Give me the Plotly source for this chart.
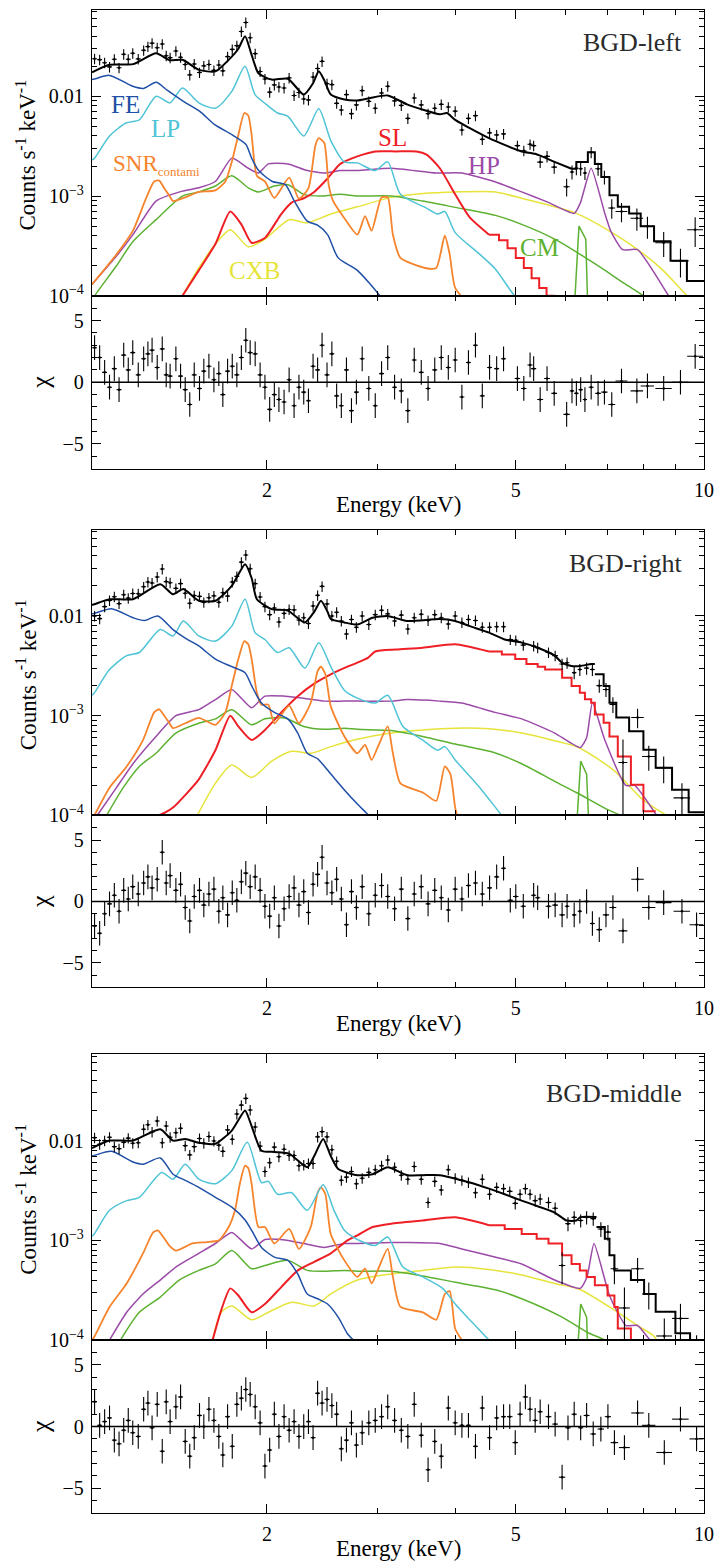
import math
import plotly.graph_objects as go

# ---------------- shared energy grid of the low/mid-energy data bins (keV)
E_GRID = [1.06,1.08,1.10,1.12,1.14,1.16,1.18,1.20,1.22,1.245,1.27,1.29,1.31,1.335,1.36,1.38,1.40,1.43,1.455,1.48,
          1.505,1.53,1.56,1.585,1.615,1.645,1.675,1.70,1.73,1.76,1.79,1.82,1.85,1.88,1.915,1.95,1.985,2.02,2.055,2.09,
          2.13,2.17,2.21,2.25,2.29,2.33,2.37,2.41,2.45,2.495,2.54,2.585,2.63,2.68,2.73,2.78,2.84,2.91,2.98,3.05,
          3.12,3.2,3.28,3.36,3.44,3.53,3.62,3.71,3.8,3.9,4.0,4.1,4.2,4.31,4.42,4.54,4.66,4.78]

# ================= BGD-left =================
P1_DATA = [0.0238,0.0233,0.0217,0.0197,0.0235,0.0193,0.0264,0.0235,0.0270,0.0237,
           0.0289,0.0315,0.0341,0.0307,0.0334,0.0255,0.0244,0.0284,0.0246,0.0208,
           0.0164,0.0211,0.0173,0.0202,0.0208,0.0182,0.0206,0.0180,0.0250,0.0295,
           0.0322,0.0446,0.0549,0.0386,0.0268,0.0177,0.0149,0.0110,0.0130,0.0124,
           0.0121,0.0153,0.0102,0.0109,0.0094,0.0092,0.0156,0.0190,0.0224,0.0134,
           0.0131,0.0085,0.0073,0.0104,0.0067,0.0082,0.0114,0.0089,0.0076,0.0108,
           0.0126,0.0090,0.0081,0.0060,0.0096,0.0082,0.0067,0.0076,0.0083,0.0078,
           0.0071,0.0046,0.0060,0.0064,0.0037,0.0043,0.0041,0.0042]
P1_RES = [2.8,2.0,0.8,-0.4,1.1,-0.6,2.2,1.0,2.4,0.6,
          1.9,2.3,2.6,1.2,2.7,0.6,0.5,1.9,0.5,-0.6,
          -1.8,0.6,-0.5,0.9,1.3,0.2,0.7,-1.0,0.9,1.3,
          0.6,2.0,3.4,2.4,2.3,0.6,-0.4,-2.2,-1.0,-1.4,
          -1.6,0.2,-1.9,-0.4,-0.8,-1.5,1.3,1.0,3.0,0.6,
          2.3,-1.1,-1.9,1.0,-2.3,-0.8,1.9,-0.5,-1.9,0.7,
          2.0,-0.4,-0.7,-2.3,1.8,0.8,-0.5,1.0,2.0,1.2,
          1.8,-1.2,1.6,3.0,-1.1,1.2,1.1,1.9]
P1_HI_E = [5.03,5.15,5.27,5.34,5.47,5.61,5.76,6.03,6.15,6.25,6.35,6.45,6.6,6.77,6.93,7.12,7.38,7.81,8.12,8.62,9.17,9.68]
P1_HI_Y = [0.0032,0.00285,0.0033,0.0032,0.00219,0.0025,0.00195,0.00124,0.00174,0.0019,0.00188,0.0017,0.00275,0.00188,0.00155,0.00076,0.0007,0.0006,0.000497,0.00034,0.000224,0.00046]
P1_HI_REL = [0.12,0.12,0.12,0.12,0.13,0.13,0.14,0.2,0.16,0.15,0.15,0.15,0.13,0.15,0.16,0.22,0.22,0.25,0.25,0.28,0.32,0.33]
P1_HI_XERR = [0.05,0.05,0.05,0.05,0.06,0.06,0.06,0.07,0.05,0.05,0.05,0.05,0.06,0.07,0.08,0.09,0.16,0.18,0.2,0.26,0.28,0.28]
P1_HI_RES = [0.3,-0.5,1.4,1.1,-1.4,0.3,-0.9,-2.6,-0.7,-0.9,-0.6,-1.4,-0.4,-0.9,-0.8,-1.8,0.1,-0.7,-0.3,-0.5,0.0,2.1]

P1_MOD_E = [1.05,1.12,1.221,1.329,1.397,1.465,1.556,1.654,1.757,1.80,1.845,1.89,1.938,2.035,2.16,2.29,2.37,2.42,2.47,2.53,2.66,2.79,2.9,3.12,3.35,3.78,3.88,4.0,4.53,5.11,5.37,5.78,6.14]
P1_MOD_Y = [0.0174,0.0207,0.021,0.027,0.023,0.0232,0.0184,0.0178,0.025,0.030,0.040,0.026,0.017,0.0147,0.015,0.0104,0.0135,0.0178,0.0145,0.0104,0.0093,0.0091,0.0095,0.0102,0.0083,0.0066,0.0068,0.0058,0.0038,0.0028,0.00265,0.00219,0.00188]
P1_STEP_E = [6.14,6.25,6.52,6.69,6.85,7.06,7.28,7.59,7.92,8.32,8.84,9.39,10.0]
P1_STEP_Y = [0.00188,0.00219,0.00275,0.0021,0.00155,0.00102,0.00078,0.00067,0.000497,0.000353,0.000224,0.000141,0.000141]
P1_FE_E = [1.05,1.06,1.12,1.22,1.27,1.33,1.38,1.47,1.56,1.65,1.76,1.85,1.89,1.94,2.04,2.14,2.21,2.32,2.41,2.5,2.6,2.79,3.03,3.1]
P1_FE_Y = [0.0147,0.0149,0.0162,0.0126,0.012,0.0138,0.0117,0.0089,0.0071,0.0052,0.0041,0.0033,0.0024,0.0018,0.0014,0.0013,0.0009,0.00056,0.00051,0.00041,0.00024,0.00018,0.0001,0.00008]
P1_LP_E = [1.05,1.06,1.12,1.19,1.25,1.33,1.40,1.465,1.556,1.654,1.757,1.845,1.914,1.995,2.08,2.16,2.29,2.42,2.53,2.66,2.79,2.98,3.12,3.27,3.58,3.75,3.85,4.0,4.38,4.64,4.98,5.1]
P1_LP_Y = [0.0023,0.0024,0.004,0.0054,0.0058,0.0100,0.0086,0.0121,0.0086,0.0076,0.0112,0.0200,0.0104,0.0083,0.0068,0.0063,0.0040,0.0075,0.0036,0.0022,0.00215,0.0018,0.0022,0.00104,0.00077,0.00066,0.0007,0.00043,0.00026,0.000185,0.0001,0.00009]
P1_SNR_E = [1.05,1.149,1.221,1.283,1.32,1.345,1.37,1.397,1.415,1.48,1.556,1.654,1.716,1.757,1.8,1.84,1.867,1.89,1.927,1.985,2.055,2.17,2.25,2.33,2.39,2.42,2.47,2.51,2.55,2.66,2.79,2.87,2.94,3.05,3.12,3.18,3.27,3.58,3.73,3.85,3.92,4.0,4.22]
P1_SNR_Y = [0.00013,0.00026,0.00045,0.00097,0.0014,0.00143,0.0012,0.001,0.00089,0.00097,0.0011,0.00114,0.0014,0.0022,0.0041,0.0068,0.0064,0.0041,0.0016,0.0014,0.00096,0.00153,0.00094,0.0012,0.0032,0.0038,0.0034,0.0013,0.0009,0.0006,0.00041,0.00063,0.00045,0.00097,0.00097,0.00041,0.00024,0.00019,0.00019,0.0004,0.00026,0.00012,0.00008]
P1_SL_E = [1.465,1.556,1.654,1.747,1.82,1.89,1.985,2.108,2.19,2.29,2.38,2.5,2.62,2.79,2.98,3.22,3.47,3.6,3.78,4.0,4.22,4.53]
P1_SL_Y = [0.0001,0.00018,0.00033,0.0007,0.00052,0.00034,0.00038,0.00066,0.00086,0.00095,0.0011,0.0015,0.0021,0.0025,0.0028,0.0028,0.0028,0.0026,0.0019,0.00104,0.00061,0.00041]
P1_SLS_E = [4.53,4.7,4.85,5.0,5.15,5.3,5.45,5.6,5.75]
P1_SLS_Y = [0.00041,0.00036,0.0003,0.00024,0.00019,0.00015,0.00012,0.0001,0.00008]
P1_HP_E = [1.05,1.149,1.221,1.329,1.465,1.556,1.654,1.757,1.867,1.938,2.01,2.16,2.32,2.47,2.62,2.79,3.16,3.73,4.1,4.63,5.11,5.6,6.2,6.34,6.6,6.94,7.1,7.41,7.83,8.78,9.0]
P1_HP_Y = [0.00013,0.00025,0.00041,0.00089,0.00112,0.00121,0.0014,0.0024,0.0019,0.0017,0.0021,0.0021,0.0018,0.0017,0.0018,0.0018,0.0019,0.0017,0.0017,0.00139,0.0011,0.00088,0.00067,0.00085,0.0019,0.00067,0.00044,0.00029,0.00029,0.0001,0.00008]
P1_CM_E = [1.05,1.06,1.149,1.221,1.329,1.465,1.556,1.654,1.757,1.867,1.938,2.055,2.16,2.29,2.44,2.62,2.79,3.16,3.55,4.0,4.64,5.11,5.77,6.69,7.5,8.0,8.1]
P1_CM_Y = [0.00009,0.0001,0.0002,0.00035,0.00058,0.001,0.0011,0.00126,0.0016,0.00121,0.0011,0.00126,0.0013,0.00104,0.001,0.00104,0.001,0.001,0.00089,0.00077,0.00064,0.00052,0.00037,0.00021,0.00013,0.0001,0.00009]
P1_CMS_E = [6.2,6.31,6.47,6.52]
P1_CMS_Y = [0.00007,0.0005,0.00037,0.00007]
P1_CXB_E = [1.465,1.556,1.654,1.747,1.867,1.985,2.17,2.32,2.53,2.79,3.16,3.55,4.0,4.64,5.11,5.77,6.25,7.13,7.96,8.6,9.4,9.6]
P1_CXB_Y = [0.0001,0.00019,0.00033,0.00046,0.00031,0.00037,0.00058,0.00054,0.00066,0.00078,0.00097,0.00106,0.0011,0.0011,0.00095,0.00078,0.00067,0.00043,0.00027,0.00018,0.0001,0.00009]

# ================= BGD-right =================
P2_DATA = [0.0100,0.0094,0.0124,0.0143,0.0156,0.0133,0.0163,0.0151,0.0168,0.0167,
           0.0196,0.0219,0.0214,0.0246,0.0296,0.0221,0.0215,0.0189,0.0211,0.0169,
           0.0134,0.0160,0.0157,0.0137,0.0152,0.0159,0.0137,0.0171,0.0158,0.0219,
           0.0249,0.0346,0.0408,0.0297,0.0211,0.0155,0.0124,0.0103,0.0120,0.0087,
           0.0106,0.0116,0.0115,0.0091,0.0096,0.0084,0.0126,0.0161,0.0198,0.0132,
           0.0100,0.0109,0.0089,0.0066,0.0092,0.0077,0.0100,0.0082,0.0103,0.0114,
           0.0105,0.0089,0.0102,0.0074,0.0096,0.0104,0.0090,0.0103,0.0096,0.0083,
           0.0100,0.0086,0.0092,0.0090,0.0077,0.0077,0.0078,0.0078]
P2_RES = [-2.0,-2.6,-1.0,-0.2,0.5,-0.8,0.9,0.2,1.2,0.6,
          1.5,2.0,1.1,1.8,4.0,1.5,2.1,0.9,1.4,-0.5,
          -1.6,0.4,0.9,-0.3,0.6,1.0,-0.8,0.3,-1.1,0.7,
          0.1,1.6,2.3,1.2,2.0,0.9,-0.4,-1.2,0.3,-2.0,
          -0.6,0.4,1.1,-0.3,0.8,-0.9,1.4,2.2,3.6,1.5,
          0.7,1.8,0.2,-1.9,0.8,-0.5,1.2,-1.0,0.5,1.3,
          0.4,-0.6,1.0,-1.4,0.6,1.2,-0.2,0.9,0.3,-0.7,
          1.0,0.2,1.3,1.5,0.6,1.1,2.0,2.7]
P2_HI_E = [4.9,5.0,5.14,5.34,5.42,5.64,5.78,5.93,6.04,6.2,6.33,6.49,6.63,6.8,6.97,7.15,7.42,7.83,8.16,8.62,9.22,9.73]
P2_HI_Y = [0.0058,0.0057,0.0051,0.0050,0.0048,0.0043,0.0040,0.0033,0.0034,0.0027,0.0029,0.0030,0.0029,0.0020,0.00183,0.0013,0.00034,0.00096,0.00039,0.0003,0.00015,0.00005]
P2_HI_REL = [0.12,0.12,0.12,0.12,0.12,0.12,0.12,0.13,0.13,0.14,0.14,0.14,0.14,0.15,0.16,0.18,0.7,0.22,0.28,0.3,0.4,0.6]
P2_HI_XERR = [0.05,0.05,0.05,0.05,0.05,0.06,0.06,0.06,0.05,0.05,0.05,0.06,0.06,0.07,0.08,0.09,0.12,0.18,0.2,0.25,0.28,0.25]
P2_HI_RES = [0.1,0.4,-0.4,0.5,0.3,-0.4,-0.3,-1.1,-0.4,-1.1,-0.8,0.0,-1.8,-2.3,-1.1,-0.5,-2.4,1.8,-0.5,-0.1,-0.8,-1.9]

P2_MOD_E = [1.05,1.059,1.12,1.221,1.35,1.415,1.47,1.556,1.654,1.757,1.80,1.845,1.89,1.927,2.035,2.16,2.30,2.38,2.44,2.50,2.53,2.66,2.79,2.95,3.12,3.35,3.78,4.0,4.22,4.53,4.8,5.11,5.42,5.77,5.93,6.14,6.34,6.6,6.69]
P2_MOD_Y = [0.0129,0.0131,0.0147,0.0147,0.0208,0.0165,0.0186,0.0142,0.0142,0.020,0.026,0.033,0.024,0.0147,0.0117,0.0113,0.0086,0.011,0.0142,0.011,0.0093,0.0086,0.0082,0.0096,0.0100,0.0089,0.0093,0.0089,0.0079,0.0068,0.0058,0.0054,0.0048,0.004,0.0034,0.00315,0.00315,0.0033,0.0033]
P2_STEP_E = [6.69,6.91,7.06,7.24,7.59,8.0,8.37,8.89,9.45,10.0]
P2_STEP_Y = [0.0026,0.00198,0.00135,0.00096,0.0007,0.000457,0.0003,0.000181,0.000108,0.000108]
P2_FE_E = [1.05,1.059,1.128,1.221,1.274,1.338,1.415,1.48,1.556,1.654,1.757,1.845,1.89,1.96,2.055,2.16,2.24,2.32,2.41,2.53,2.66,2.79,2.91,3.0]
P2_FE_Y = [0.0105,0.0106,0.0118,0.0096,0.009,0.01,0.0073,0.006,0.005,0.0037,0.0031,0.0027,0.002,0.00134,0.00108,0.00093,0.00067,0.00042,0.00037,0.00026,0.00018,0.00013,0.0001,0.00008]
P2_LP_E = [1.05,1.059,1.12,1.193,1.25,1.35,1.415,1.47,1.556,1.654,1.757,1.845,1.914,1.985,2.08,2.17,2.3,2.42,2.53,2.66,2.79,2.98,3.12,3.3,3.55,3.75,3.85,4.0,4.38,4.75,4.9]
P2_LP_Y = [0.0016,0.00169,0.0029,0.004,0.0043,0.0073,0.0063,0.0089,0.0063,0.0056,0.0079,0.0147,0.0068,0.0058,0.0043,0.0048,0.003,0.0054,0.0031,0.0018,0.0015,0.00134,0.0016,0.00078,0.00057,0.00045,0.00049,0.00036,0.00019,0.0001,0.00008]
P2_SNR_E = [1.05,1.059,1.12,1.193,1.267,1.32,1.345,1.37,1.395,1.415,1.48,1.556,1.654,1.716,1.757,1.8,1.84,1.867,1.89,1.927,1.96,2.01,2.055,2.17,2.25,2.35,2.41,2.44,2.48,2.53,2.66,2.79,2.87,2.94,3.01,3.12,3.18,3.27,3.55,3.73,3.85,3.93,4.0,4.05]
P2_SNR_Y = [0.00009,0.0001,0.00019,0.00031,0.00057,0.00108,0.00116,0.001,0.00085,0.00075,0.00084,0.00095,0.00081,0.00108,0.002,0.0037,0.0056,0.0052,0.0037,0.0017,0.00129,0.00129,0.00084,0.00126,0.00084,0.00135,0.0028,0.0031,0.0026,0.00124,0.00062,0.00042,0.00051,0.00036,0.00049,0.00078,0.00042,0.00021,0.00017,0.00014,0.00031,0.00026,0.00012,0.00009]
P2_SL_E = [1.2,1.35,1.415,1.48,1.556,1.654,1.747,1.8,1.89,1.985,2.108,2.24,2.38,2.53,2.69,2.79,2.9,2.98,3.22,3.55,4.0,4.53]
P2_SL_Y = [0.000098,0.000102,0.00012,0.00016,0.00023,0.00045,0.001,0.00078,0.00057,0.00072,0.00108,0.00157,0.0021,0.0026,0.0031,0.0034,0.0038,0.0044,0.0046,0.0048,0.0052,0.0044]
P2_SLS_E = [4.53,4.75,4.99,5.2,5.42,5.57,5.93,6.14,6.33,6.45,6.6,6.69,6.91,7.06,7.28,7.64,8.0,8.37]
P2_SLS_Y = [0.0044,0.0041,0.0037,0.0033,0.0031,0.0029,0.0024,0.00198,0.0017,0.00146,0.00135,0.00103,0.00085,0.00062,0.00039,0.000203,0.00011,0.00011]
P2_HP_E = [1.07,1.149,1.221,1.329,1.43,1.556,1.654,1.757,1.89,1.985,2.136,2.29,2.47,2.66,2.79,3.16,3.35,3.78,4.1,4.63,5.11,5.77,6.34,6.49,6.63,6.94,7.5,7.75,8.4,8.6]
P2_HP_Y = [0.0001,0.00019,0.00033,0.00062,0.001,0.00115,0.00145,0.00183,0.0012,0.00157,0.00157,0.0015,0.0014,0.0014,0.0014,0.0014,0.00145,0.0014,0.00134,0.00108,0.00093,0.00067,0.00048,0.0006,0.00135,0.00057,0.0002,0.0002,0.0001,0.00008]
P2_CM_E = [1.108,1.178,1.25,1.329,1.43,1.556,1.654,1.757,1.89,1.985,2.136,2.29,2.47,2.66,2.79,3.16,3.55,4.0,4.6,5.11,5.77,6.25,7.0,7.35,7.5]
P2_CM_Y = [0.0001,0.00019,0.00031,0.00042,0.00067,0.00084,0.00093,0.00115,0.00081,0.00093,0.00095,0.00078,0.00073,0.00075,0.00073,0.00071,0.00062,0.00052,0.00043,0.00033,0.00022,0.00017,0.000115,0.0001,0.00009]
P2_CMS_E = [6.25,6.35,6.49,6.55]
P2_CMS_Y = [0.00007,0.00035,0.00026,0.00007]
P2_CXB_E = [1.547,1.654,1.757,1.89,2.035,2.19,2.35,2.53,2.79,3.16,3.55,4.0,4.53,5.11,5.77,6.3,7.19,7.92,8.32,8.72,8.9]
P2_CXB_Y = [0.0001,0.00021,0.00032,0.00024,0.00035,0.00044,0.00042,0.00049,0.00058,0.00067,0.00072,0.00075,0.00074,0.00067,0.00056,0.00048,0.00028,0.00015,0.00012,0.0001,0.00009]

# ================= BGD-middle =================
P3_DATA = [0.0107,0.0092,0.0100,0.0108,0.0087,0.0083,0.0096,0.0106,0.0094,0.0095,
           0.0130,0.0144,0.0122,0.0157,0.0095,0.0140,0.0108,0.0120,0.0133,0.0089,
           0.0072,0.0087,0.0105,0.0094,0.0110,0.0099,0.0090,0.0078,0.0128,0.0103,
           0.0185,0.0227,0.0265,0.0203,0.0137,0.0088,0.0049,0.0060,0.0086,0.0069,
           0.0082,0.0071,0.0071,0.0056,0.0057,0.0059,0.0059,0.0109,0.0123,0.0109,
           0.0081,0.0062,0.0040,0.0043,0.0049,0.0037,0.0042,0.0048,0.0051,0.0056,
           0.0064,0.0054,0.0045,0.0041,0.0055,0.0041,0.0024,0.0039,0.0032,0.0051,
           0.0042,0.0040,0.0038,0.0030,0.0041,0.0029,0.0034,0.0033]
P3_RES = [2.0,0.1,0.4,0.7,-1.1,-1.4,-0.3,0.5,-0.5,-0.8,
          1.4,1.9,-0.1,1.8,-2.0,2.0,0.4,1.6,2.4,-1.2,
          -2.4,-0.9,0.9,0.0,1.4,0.5,-0.8,-2.3,0.8,-1.6,
          1.8,2.3,3.0,2.6,1.6,0.3,-3.2,-1.9,1.0,-0.8,
          0.8,-0.3,0.4,-0.8,0.0,0.4,-0.9,2.7,1.9,2.2,
          1.7,1.0,-1.8,-1.1,0.3,-1.5,-0.5,0.3,0.5,0.8,
          1.6,0.5,-0.3,-0.8,1.8,-0.7,-3.5,-1.2,-2.4,1.5,
          0.3,0.1,0.1,-1.6,1.5,-0.9,0.7,0.8]
P3_HI_E = [4.89,4.99,5.08,5.18,5.27,5.37,5.47,5.64,5.78,5.93,6.06,6.2,6.35,6.49,6.65,6.84,7.02,7.19,7.46,7.83,8.16,8.64,9.17,9.73]
P3_HI_Y = [0.0031,0.00235,0.0029,0.0033,0.0029,0.0025,0.0026,0.0024,0.0021,0.00056,0.00147,0.0017,0.00158,0.0017,0.00165,0.0013,0.00121,0.00052,0.00021,0.00052,0.00029,0.00011,0.000165,0.00007]
P3_HI_REL = [0.12,0.13,0.12,0.12,0.12,0.13,0.13,0.13,0.14,0.35,0.16,0.15,0.15,0.15,0.15,0.17,0.18,0.3,0.6,0.28,0.3,0.5,0.4,0.6]
P3_HI_XERR = [0.05,0.05,0.05,0.05,0.05,0.05,0.05,0.06,0.06,0.07,0.06,0.06,0.06,0.07,0.07,0.08,0.08,0.1,0.15,0.18,0.2,0.25,0.28,0.25]
P3_HI_RES = [0.8,-1.3,1.0,2.4,1.4,0.5,1.2,0.8,0.2,-4.1,-0.1,1.0,-0.1,0.9,-0.6,-0.2,0.8,-1.3,-1.7,1.1,0.1,-2.1,0.6,-1.0]

P3_MOD_E = [1.05,1.12,1.221,1.35,1.415,1.48,1.556,1.654,1.757,1.80,1.845,1.89,1.96,2.055,2.17,2.32,2.38,2.46,2.53,2.6,2.79,2.95,3.12,3.35,3.55,3.78,4.22,4.53,4.8,5.11,5.42,5.77,6.03,6.25,6.34,6.73]
P3_MOD_Y = [0.0084,0.010,0.010,0.013,0.0100,0.0104,0.0095,0.0093,0.0126,0.016,0.020,0.014,0.0079,0.0077,0.0074,0.0054,0.007,0.0104,0.007,0.0052,0.0045,0.0046,0.0054,0.0045,0.0045,0.0045,0.0038,0.0033,0.0029,0.0025,0.0022,0.0019,0.00158,0.00158,0.00171,0.00171]
P3_STEP_E = [6.73,6.94,7.06,7.19,7.64,8.02,8.37,9.0,9.5,10.0]
P3_STEP_Y = [0.00136,0.00104,0.00071,0.0005,0.0004,0.00029,0.000192,0.000117,0.0001,0.0001]
P3_FE_E = [1.05,1.059,1.128,1.221,1.267,1.35,1.415,1.48,1.556,1.654,1.757,1.845,1.89,1.96,2.055,2.16,2.24,2.32,2.41,2.5,2.6,2.69,2.75,2.8]
P3_FE_Y = [0.0070,0.0071,0.0078,0.0061,0.0058,0.0067,0.0046,0.004,0.0034,0.0027,0.00215,0.0016,0.00126,0.00085,0.00068,0.00063,0.00046,0.00029,0.00026,0.00023,0.00017,0.000116,0.0001,0.00009]
P3_LP_E = [1.05,1.059,1.12,1.193,1.25,1.357,1.415,1.48,1.556,1.654,1.757,1.86,1.96,2.01,2.08,2.19,2.32,2.46,2.56,2.66,2.79,2.98,3.12,3.3,3.55,3.82,4.0,4.22,4.53,4.6]
P3_LP_Y = [0.0011,0.00116,0.002,0.0025,0.0027,0.0048,0.0041,0.0058,0.0041,0.0037,0.005,0.0096,0.0038,0.0039,0.0029,0.003,0.002,0.0036,0.002,0.00126,0.00102,0.00089,0.00108,0.00054,0.00043,0.00033,0.00023,0.00016,0.0001,0.00009]
P3_SNR_E = [1.05,1.059,1.12,1.193,1.267,1.315,1.338,1.365,1.397,1.43,1.52,1.6,1.675,1.737,1.778,1.81,1.845,1.867,1.89,1.938,1.985,2.055,2.17,2.25,2.35,2.41,2.44,2.48,2.53,2.66,2.79,2.87,2.94,3.01,3.12,3.18,3.27,3.55,3.73,3.85,3.92,4.0,4.1]
P3_SNR_Y = [0.0001,0.000108,0.000215,0.00037,0.00074,0.0012,0.00126,0.00108,0.00088,0.00079,0.00093,0.00096,0.001,0.00136,0.002,0.0037,0.0056,0.0053,0.0037,0.00136,0.00136,0.00093,0.0013,0.00082,0.00136,0.003,0.0034,0.0029,0.00115,0.00063,0.00043,0.00052,0.00037,0.00051,0.00082,0.00043,0.000215,0.00019,0.00016,0.00029,0.00031,0.00013,0.0001]
P3_SL_E = [1.637,1.69,1.747,1.8,1.89,1.985,2.108,2.24,2.38,2.53,2.69,2.79,2.95,3.16,3.55,4.0,4.53]
P3_SL_Y = [0.0001,0.0002,0.00033,0.00028,0.00019,0.00023,0.00034,0.0005,0.00061,0.00074,0.001,0.00112,0.00136,0.00147,0.00158,0.0017,0.00142]
P3_SLS_E = [4.53,4.8,5.11,5.4,5.64,5.93,6.14,6.33,6.49,6.69,7.01,7.19,7.28,7.64,8.0]
P3_SLS_Y = [0.00142,0.0013,0.00116,0.00104,0.00093,0.00071,0.00058,0.0005,0.00043,0.000355,0.00028,0.000215,0.000131,0.00009,0.00009]
P3_HP_E = [1.12,1.193,1.267,1.35,1.43,1.556,1.654,1.757,1.89,1.985,2.136,2.29,2.47,2.66,2.79,3.16,3.35,3.78,4.1,4.63,5.11,5.77,6.34,6.5,6.67,7.06,7.5,7.83,8.2,8.4]
P3_HP_Y = [0.0001,0.00019,0.00029,0.0004,0.00054,0.00074,0.00093,0.0012,0.00082,0.00102,0.00101,0.00093,0.00085,0.00093,0.00093,0.00095,0.00095,0.00093,0.00082,0.00068,0.00058,0.0004,0.00033,0.00043,0.00093,0.00028,0.00014,0.00014,0.0001,0.00009]
P3_CM_E = [1.166,1.25,1.35,1.448,1.556,1.654,1.757,1.89,1.985,2.16,2.32,2.47,2.66,2.79,3.16,3.55,4.0,4.64,5.11,5.93,6.5,6.94,7.1]
P3_CM_Y = [0.0001,0.00019,0.00027,0.0004,0.0005,0.00058,0.00079,0.00052,0.00056,0.00063,0.0005,0.00049,0.0005,0.00049,0.00049,0.00044,0.00038,0.00032,0.00026,0.00017,0.00012,0.0001,0.00009]
P3_CMS_E = [6.27,6.35,6.49,6.52]
P3_CMS_Y = [0.00007,0.00023,0.00017,0.00007]
P3_CXB_E = [1.637,1.69,1.757,1.89,2.01,2.19,2.38,2.53,2.79,3.16,3.55,4.0,4.53,5.11,5.77,6.34,7.19,7.83,8.31,8.5]
P3_CXB_Y = [0.0001,0.00019,0.00022,0.00016,0.00019,0.00024,0.00022,0.00029,0.0004,0.00046,0.0005,0.00054,0.00051,0.00045,0.00037,0.00032,0.0002,0.00014,0.00011,0.00009]

PANEL_NAMES = ["BGD-left", "BGD-right", "BGD-middle"]

# ---------------- styling / layout
W, H = 723, 1563
ML, MR, MT, MB = 92, 13, 9, 50
PW, PH = W - ML - MR, H - MT - MB
ROWS = [(9, 295, 468), (529, 815, 987), (1054, 1340, 1513)]   # spec top, spec bottom, resid bottom (px)
FONT = "Liberation Serif, Times New Roman, serif"
C_FE, C_LP, C_SNR, C_SL = "#1f4fa6", "#4fc4d6", "#f6842c", "#ee2026"
C_HP, C_CM, C_CXB = "#9b4aa8", "#5cb131", "#e6e43a"


def ypap(py):
    return (H - MB - py) / PH


def xpap(px):
    return (px - ML) / PW


def nm(k):
    return "" if k == 1 else str(k)


fig = go.Figure()


def add_line(E, Y, color, width, k, shape="spline", smooth=0.7):
    ln = dict(color=color, width=width, shape=shape)
    if shape == "spline":
        ln["smoothing"] = smooth
    fig.add_trace(go.Scatter(x=E, y=Y, mode="lines", line=ln, xaxis="x" + nm(k), yaxis="y" + nm(k),
                             showlegend=False, hoverinfo="skip"))


def eb(**kw):
    d = dict(color="black", thickness=1.1, width=0)
    d.update(kw)
    return d


panels = [
    dict(data=P1_DATA, res=P1_RES, hiE=P1_HI_E, hiY=P1_HI_Y, hiRel=P1_HI_REL, hiX=P1_HI_XERR, hiR=P1_HI_RES,
         mod=(P1_MOD_E, P1_MOD_Y), step=(P1_STEP_E, P1_STEP_Y), fe=(P1_FE_E, P1_FE_Y), lp=(P1_LP_E, P1_LP_Y),
         snr=(P1_SNR_E, P1_SNR_Y), sl=(P1_SL_E, P1_SL_Y), sls=(P1_SLS_E, P1_SLS_Y), hp=(P1_HP_E, P1_HP_Y),
         cm=(P1_CM_E, P1_CM_Y), cms=(P1_CMS_E, P1_CMS_Y), cxb=(P1_CXB_E, P1_CXB_Y)),
    dict(data=P2_DATA, res=P2_RES, hiE=P2_HI_E, hiY=P2_HI_Y, hiRel=P2_HI_REL, hiX=P2_HI_XERR, hiR=P2_HI_RES,
         mod=(P2_MOD_E, P2_MOD_Y), step=(P2_STEP_E, P2_STEP_Y), fe=(P2_FE_E, P2_FE_Y), lp=(P2_LP_E, P2_LP_Y),
         snr=(P2_SNR_E, P2_SNR_Y), sl=(P2_SL_E, P2_SL_Y), sls=(P2_SLS_E, P2_SLS_Y), hp=(P2_HP_E, P2_HP_Y),
         cm=(P2_CM_E, P2_CM_Y), cms=(P2_CMS_E, P2_CMS_Y), cxb=(P2_CXB_E, P2_CXB_Y)),
    dict(data=P3_DATA, res=P3_RES, hiE=P3_HI_E, hiY=P3_HI_Y, hiRel=P3_HI_REL, hiX=P3_HI_XERR, hiR=P3_HI_RES,
         mod=(P3_MOD_E, P3_MOD_Y), step=(P3_STEP_E, P3_STEP_Y), fe=(P3_FE_E, P3_FE_Y), lp=(P3_LP_E, P3_LP_Y),
         snr=(P3_SNR_E, P3_SNR_Y), sl=(P3_SL_E, P3_SL_Y), sls=(P3_SLS_E, P3_SLS_Y), hp=(P3_HP_E, P3_HP_Y),
         cm=(P3_CM_E, P3_CM_Y), cms=(P3_CMS_E, P3_CMS_Y), cxb=(P3_CXB_E, P3_CXB_Y)),
]

for i, p in enumerate(panels):
    ks, kr = 2 * i + 1, 2 * i + 2
    add_line(*p["cxb"], C_CXB, 1.5, ks)
    add_line(*p["cm"], C_CM, 1.5, ks)
    add_line(*p["cms"], C_CM, 1.5, ks, shape="linear")
    add_line(*p["hp"], C_HP, 1.5, ks, smooth=0.5)
    add_line(*p["sl"], C_SL, 2.0, ks, smooth=0.6)
    add_line(*p["sls"], C_SL, 2.0, ks, shape="hv")
    add_line(*p["snr"], C_SNR, 1.8, ks, smooth=0.6)
    add_line(*p["lp"], C_LP, 1.5, ks)
    add_line(*p["fe"], C_FE, 1.5, ks)
    add_line(*p["mod"], "black", 2.0, ks, smooth=0.6)
    add_line(*p["step"], "black", 2.0, ks, shape="hv")
    # data: low/mid-energy bins
    fig.add_trace(go.Scatter(x=E_GRID, y=p["data"], mode="markers", marker=dict(color="black", size=2.5),
                             error_y=eb(type="percent", value=12), error_x=eb(type="percent", value=0.9),
                             xaxis="x" + nm(ks), yaxis="y" + nm(ks), showlegend=False, hoverinfo="skip"))
    hi_err = [r * y for r, y in zip(p["hiRel"], p["hiY"])]
    fig.add_trace(go.Scatter(x=p["hiE"], y=p["hiY"], mode="markers", marker=dict(color="black", size=2.5),
                             error_y=eb(type="data", array=hi_err), error_x=eb(type="data", array=p["hiX"]),
                             xaxis="x" + nm(ks), yaxis="y" + nm(ks), showlegend=False, hoverinfo="skip"))
    # residuals
    fig.add_trace(go.Scatter(x=E_GRID, y=p["res"], mode="markers", marker=dict(color="black", size=2.5),
                             error_y=eb(type="constant", value=1), error_x=eb(type="percent", value=0.9),
                             xaxis="x" + nm(kr), yaxis="y" + nm(kr), showlegend=False, hoverinfo="skip"))
    fig.add_trace(go.Scatter(x=p["hiE"], y=p["hiR"], mode="markers", marker=dict(color="black", size=2.5),
                             error_y=eb(type="constant", value=1), error_x=eb(type="data", array=p["hiX"]),
                             xaxis="x" + nm(kr), yaxis="y" + nm(kr), showlegend=False, hoverinfo="skip"))

X_MAJOR = [2, 5, 10]
X_MINOR = [3, 4, 6, 7, 8, 9]
Y_MAJOR = [1e-4, 1e-3, 1e-2]
Y_TEXT = ["10<sup>\u22124</sup>", "10<sup>\u22123</sup>", "0.01"]
Y_MINOR = [m * 10.0 ** e for e in (-4, -3, -2) for m in range(2, 10)]

common = dict(showline=True, linecolor="black", linewidth=1.3, mirror="ticks", ticks="inside",
              tickcolor="black", tickwidth=1.3, showgrid=False, zeroline=False,
              tickfont=dict(family=FONT, size=20, color="black"))
minor_x = dict(tickmode="array", tickvals=X_MINOR, ticks="inside", ticklen=5, tickcolor="black", tickwidth=1.2, showgrid=False)
layout = dict(width=W, height=H, margin=dict(l=ML, r=MR, t=MT, b=MB), paper_bgcolor="white",
              plot_bgcolor="white", showlegend=False, font=dict(family=FONT, size=20, color="black"))
shapes, annotations = [], []
for i, (top, bot, rbot) in enumerate(ROWS):
    ks, kr = 2 * i + 1, 2 * i + 2
    layout["xaxis" + nm(ks)] = {**common, "type": "log", "range": [math.log10(1.05), 1.0], "domain": [0, 1],
                                "anchor": "y" + nm(ks), "tickmode": "array", "tickvals": X_MAJOR,
                                "showticklabels": False, "ticklen": 9, "minor": minor_x, "linewidth": 1.0}
    layout["yaxis" + nm(ks)] = {**common, "type": "log", "range": [-4, -1.135],
                                "domain": [ypap(bot), ypap(top)], "anchor": "x" + nm(ks), "tickmode": "array",
                                "tickvals": Y_MAJOR, "ticktext": Y_TEXT, "ticklen": 9, "ticklabelstandoff": 3,
                                "minor": dict(tickmode="array", tickvals=Y_MINOR, ticks="inside", ticklen=5,
                                              tickcolor="black", tickwidth=1.2, showgrid=False)}
    layout["xaxis" + nm(kr)] = {**common, "type": "log", "range": [math.log10(1.05), 1.0], "domain": [0, 1],
                                "anchor": "y" + nm(kr), "tickmode": "array", "tickvals": X_MAJOR,
                                "ticktext": ["2", "5", "10"], "ticklen": 9, "ticklabelstandoff": 3, "minor": minor_x,
                                "linewidth": 1.0}
    layout["yaxis" + nm(kr)] = {**common, "range": [-7, 7], "domain": [ypap(rbot), ypap(bot)],
                                "anchor": "x" + nm(kr), "tickmode": "array", "tickvals": [-5, 0, 5],
                                "ticktext": ["\u22125", "0", "5"], "ticklen": 9, "ticklabelstandoff": 3,
                                "minor": dict(tickmode="linear", tick0=0, dtick=1, ticks="inside", ticklen=5,
                                              tickcolor="black", tickwidth=1.2, showgrid=False)}
    shapes.append(dict(type="line", xref="x" + nm(kr) + " domain", x0=0, x1=1, yref="y" + nm(kr), y0=0, y1=0,
                       line=dict(color="black", width=1.5)))
    # titles
    annotations.append(dict(text="Counts s<sup>-1</sup> keV<sup>-1</sup>", textangle=-90, x=xpap(26),
                            y=ypap((top + bot) / 2 + 2), xref="paper", yref="paper", showarrow=False,
                            xanchor="center", yanchor="middle", font=dict(family=FONT, size=23, color="black")))
    annotations.append(dict(text="\u03c7", textangle=-90, x=xpap(40), y=ypap((bot + rbot) / 2), xref="paper",
                            yref="paper", showarrow=False, xanchor="center", yanchor="middle",
                            font=dict(family=FONT, size=26, color="black")))
    annotations.append(dict(text="Energy (keV)", x=0.5, y=ypap(rbot + 36), xref="paper", yref="paper",
                            showarrow=False, xanchor="center", yanchor="middle",
                            font=dict(family=FONT, size=23, color="black")))
    name_y = [42, 563, 1093][i]
    annotations.append(dict(text=PANEL_NAMES[i], x=xpap(690), y=ypap(name_y), xref="paper", yref="paper",
                            showarrow=False, xanchor="right", yanchor="middle",
                            font=dict(family=FONT, size=26, color="#2b2b2b")))

# component labels (first panel)
for txt, px, py, col, size in [("FE", 126, 104, C_FE, 25), ("LP", 166, 128, C_LP, 25),
                               ("SL", 395, 137, C_SL, 25), ("HP", 488, 165, C_HP, 25),
                               ("CM", 544, 247, C_CM, 25), ("CXB", 256, 270, C_CXB, 25)]:
    annotations.append(dict(text=txt, x=xpap(px), y=ypap(py), xref="paper", yref="paper", showarrow=False,
                            xanchor="center", yanchor="middle", font=dict(family=FONT, size=size, color=col)))
annotations.append(dict(text="SNR<sub><span style='font-size:13px'>contami</span></sub>", x=xpap(111),
                        y=ypap(164), xref="paper", yref="paper", showarrow=False, xanchor="left",
                        yanchor="middle", font=dict(family=FONT, size=23, color=C_SNR)))

layout["shapes"] = shapes
layout["annotations"] = annotations
fig.update_layout(**layout)
fig.write_html("out.html")
